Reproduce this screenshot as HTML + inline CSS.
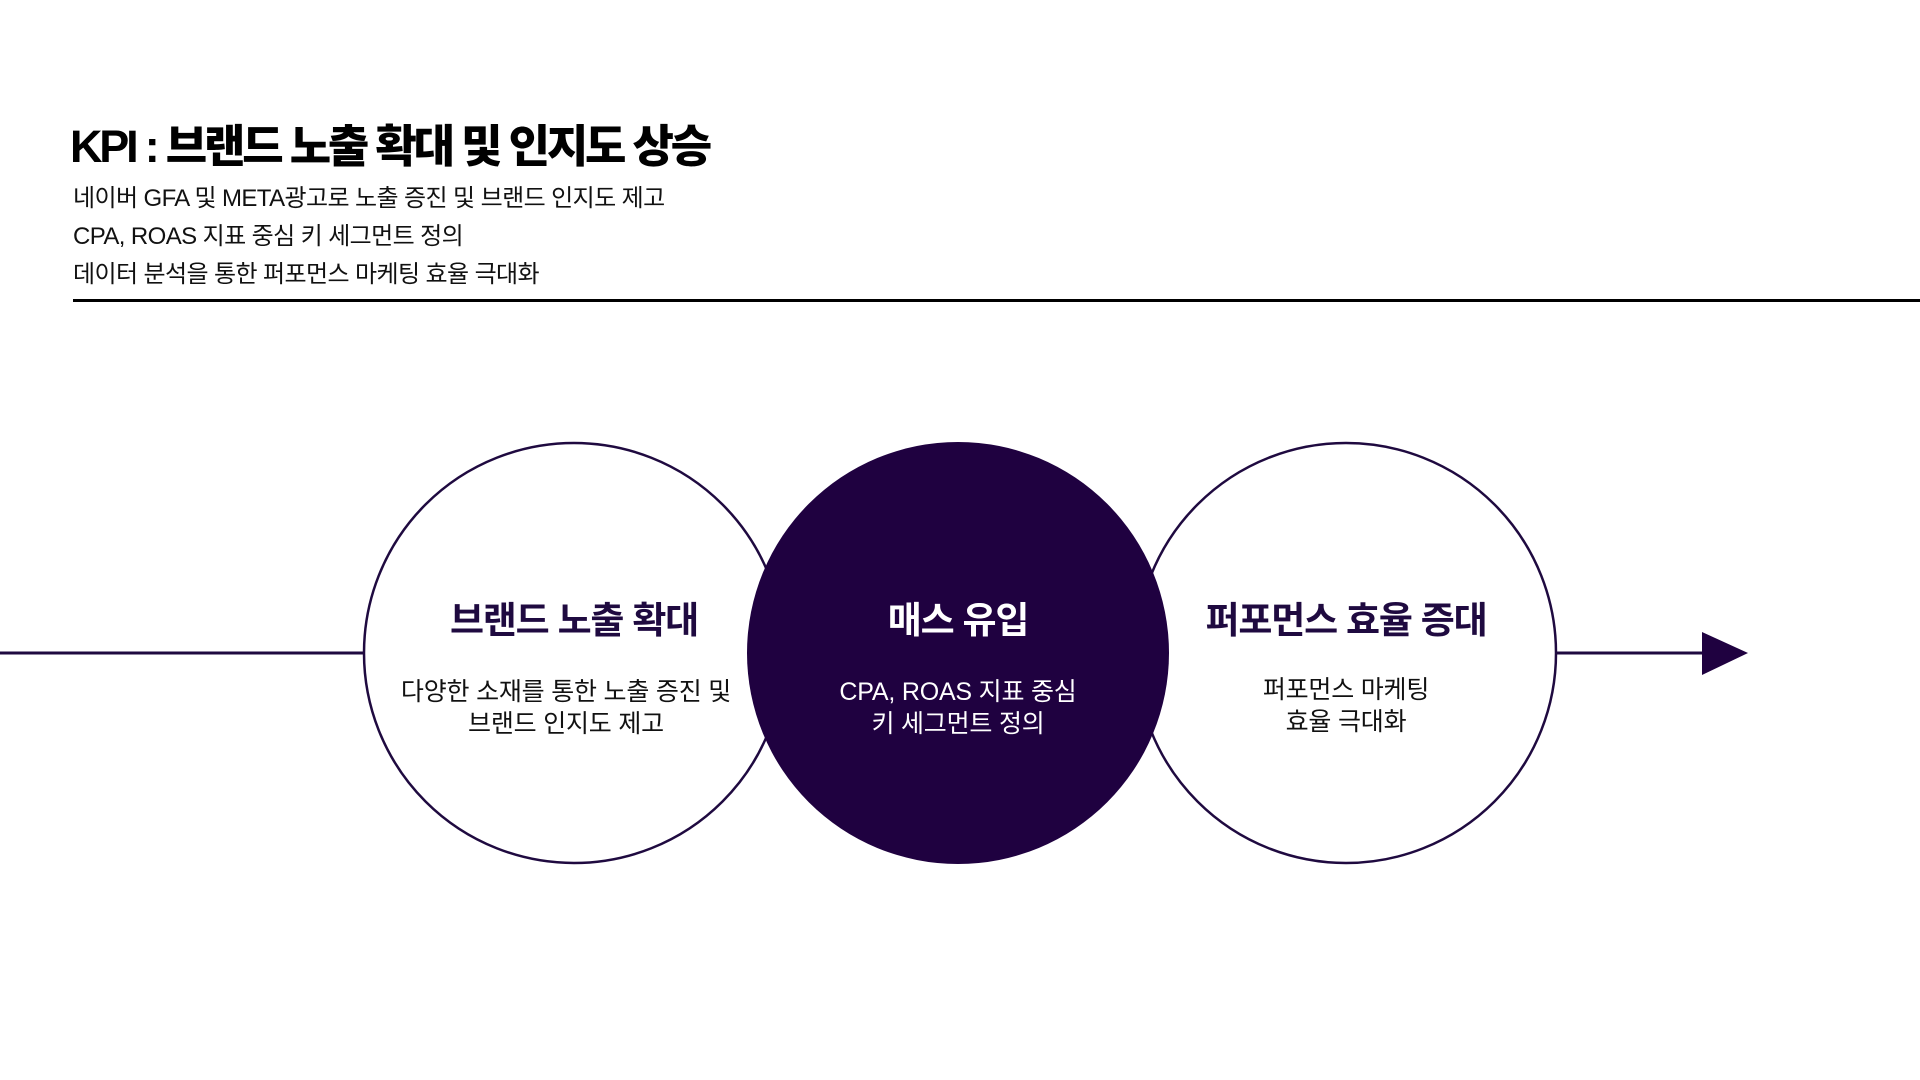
<!DOCTYPE html>
<html><head><meta charset="utf-8"><style>
html,body{margin:0;padding:0;background:#fff;}
body{width:1920px;height:1080px;position:relative;overflow:hidden;font-family:"Liberation Sans","Noto Sans CJK KR",sans-serif;}
.t{position:absolute;white-space:nowrap;}
#title{left:70px;top:110px;font-size:45px;font-weight:900;letter-spacing:-3.2px;color:#000;}
.sub{left:73px;font-size:24px;letter-spacing:-0.6px;color:#111;}
.c{position:absolute;text-align:center;width:440px;}
.h{font-size:37px;font-weight:700;letter-spacing:-1.2px;}
.b{font-size:25px;line-height:32px;letter-spacing:-0.2px;}
</style></head><body>
<div class="t" id="title">KPI : 브랜드 노출 확대 및 인지도 상승</div>
<div class="t sub" style="top:178px">네이버 GFA 및 META광고로 노출 증진 및 브랜드 인지도 제고</div>
<div class="t sub" style="top:216px">CPA, ROAS 지표 중심 키 세그먼트 정의</div>
<div class="t sub" style="top:254px">데이터 분석을 통한 퍼포먼스 마케팅 효율 극대화</div>
<div style="position:absolute;left:73px;top:299px;width:1847px;height:3px;background:#000"></div>
<svg style="position:absolute;left:0;top:0" width="1920" height="1080">
<line x1="0" y1="653" x2="366" y2="653" stroke="#1f0a40" stroke-width="3"/>
<line x1="1554" y1="653" x2="1710" y2="653" stroke="#1f0a40" stroke-width="3"/>
<polygon points="1702,632 1748,653 1702,675" fill="#1f0140"/>
<circle cx="574" cy="653" r="210" fill="#fff" stroke="#1f0a40" stroke-width="2.5"/>
<circle cx="1346" cy="653" r="210" fill="#fff" stroke="#1f0a40" stroke-width="2.5"/>
<circle cx="958" cy="653" r="211" fill="#1f0140"/>
</svg>
<div class="c" style="left:354px;top:590px;color:#1f0a40"><div class="h">브랜드 노출 확대</div></div>
<div class="c" style="left:346px;top:676px;color:#111"><div class="b">다양한 소재를 통한 노출 증진 및<br>브랜드 인지도 제고</div></div>
<div class="c" style="left:738px;top:590px;color:#fff"><div class="h">매스 유입</div></div>
<div class="c" style="left:738px;top:676px;color:#fff"><div class="b">CPA, ROAS 지표 중심<br>키 세그먼트 정의</div></div>
<div class="c" style="left:1126px;top:590px;color:#1f0a40"><div class="h">퍼포먼스 효율 증대</div></div>
<div class="c" style="left:1126px;top:674px;color:#111"><div class="b">퍼포먼스 마케팅<br>효율 극대화</div></div>
</body></html>
